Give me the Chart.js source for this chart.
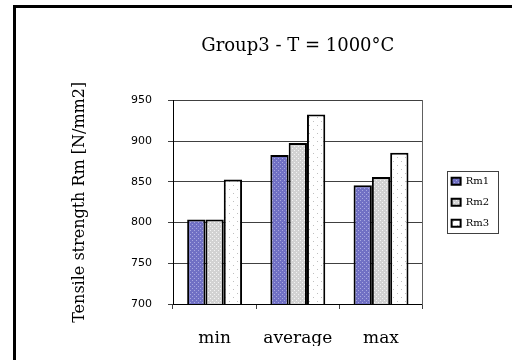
<!DOCTYPE html>
<html>
<head>
<meta charset="utf-8">
<script src="https://cdn.jsdelivr.net/npm/chart.js@4"></script>
<style>
  body { margin: 0; background: #fff; }
  #wrap { position: relative; width: 512px; height: 360px; }
  #frame {
    position: absolute; left: 13px; top: 5px; right: 0; bottom: 0;
    border-left: 3px solid #000; border-top: 3px solid #000;
    pointer-events: none;
  }
</style>
</head>
<body>
<div id="wrap">
  <canvas id="chart" width="512" height="360"></canvas>
  <div id="frame"></div>
</div>
<script>
const categories = ['min', 'average', 'max'];
const seriesNames = ['Rm1', 'Rm2', 'Rm3'];
const rm1 = [804, 883, 846];
const rm2 = [804, 898, 856];
const rm3 = [853, 933, 886];
const yTicks = [700, 750, 800, 850, 900, 950];

// small fill patterns like the old spreadsheet hatches
function makePattern(base, dot, dots, size) {
    const c = document.createElement('canvas');
    c.width = size; c.height = size;
    const g = c.getContext('2d');
    g.fillStyle = base;
    g.fillRect(0, 0, size, size);
    g.fillStyle = dot;
    dots.forEach(p => g.fillRect(p[0], p[1], 1, 1));
    return g.createPattern(c, 'repeat');
}
const ctx = document.getElementById('chart').getContext('2d');
const fillRm1 = makePattern('#7070c4', '#a8a8e0', [[0, 0], [2, 2]], 4);
const fillRm2 = makePattern('#d2d2d2', '#f4f4f4', [[0, 0], [2, 2]], 4);
const fillRm3 = makePattern('#ffffff', '#c0c0c0', [[1, 1], [5, 5]], 8);

Chart.defaults.font.family = "'DejaVu Serif', serif";
Chart.defaults.color = '#000';

// box around the legend, as in the original
const legendFrame = {
    id: 'legendFrame',
    afterDraw(chart) {
        const boxes = chart.legend && chart.legend.legendHitBoxes;
        if (!boxes || !boxes.length) return;
        const l = Math.min(...boxes.map(b => b.left)) - 5;
        const t = Math.min(...boxes.map(b => b.top)) - 5;
        const r = Math.max(...boxes.map(b => b.left + b.width)) + 9;
        const b = Math.max(...boxes.map(b => b.top + b.height)) + 5;
        const c = chart.ctx;
        c.save();
        c.strokeStyle = '#404040';
        c.lineWidth = 1;
        c.strokeRect(Math.round(l) + 0.5, Math.round(t) + 0.5, Math.round(r - l), Math.round(b - t));
        c.restore();
    }
};

new Chart(ctx, {
    type: 'bar',
    data: {
        labels: categories,
        datasets: [
            { label: seriesNames[0], data: rm1, backgroundColor: fillRm1 },
            { label: seriesNames[1], data: rm2, backgroundColor: fillRm2 },
            { label: seriesNames[2], data: rm3, backgroundColor: fillRm3 }
        ]
    },
    options: {
        responsive: false,
        animation: false,
        layout: { padding: { top: 0, right: 13, bottom: 14, left: 20 } },
        datasets: {
            bar: {
                borderColor: '#000',
                borderWidth: 2,
                categoryPercentage: 0.66,
                barPercentage: 1.0
            }
        },
        plugins: {
            title: {
                display: true,
                fullSize: false,
                text: 'Group3 - T = 1000°C',
                font: { size: 18, weight: 'normal' },
                padding: { top: 36, bottom: 43 }
            },
            legend: {
                position: 'right',
                fullSize: false,
                labels: {
                    boxWidth: 9,
                    boxHeight: 7,
                    padding: 11,
                    font: { size: 10 }
                }
            },
            tooltip: { enabled: false }
        },
        scales: {
            x: {
                grid: { display: true, drawOnChartArea: false, drawTicks: true, tickLength: 5, color: '#404040', offset: true },
                border: { color: '#000' },
                ticks: { padding: 19, font: { size: 17 } },
                afterFit(scale) { scale.height = 42; }
            },
            y: {
                min: yTicks[0],
                max: yTicks[yTicks.length - 1],
                afterBuildTicks(scale) { scale.ticks = yTicks.map(v => ({ value: v })); },
                grid: { color: '#404040', tickLength: 5 },
                border: { color: '#000' },
                ticks: { padding: 16, font: { family: "'DejaVu Sans', sans-serif", size: 11 } },
                title: {
                    display: true,
                    text: 'Tensile strength Rm [N/mm2]',
                    font: { size: 16 },
                    padding: { top: 50, bottom: 10 }
                },
                afterFit(scale) { scale.width = 153; }
            },
            edge: {
                type: 'linear',
                position: 'right',
                grid: { display: false },
                ticks: { display: false },
                border: { display: true, color: '#606060' },
                afterFit(scale) { scale.width = 18; }
            }
        }
    },
    plugins: [legendFrame]
});
</script>
</body>
</html>
